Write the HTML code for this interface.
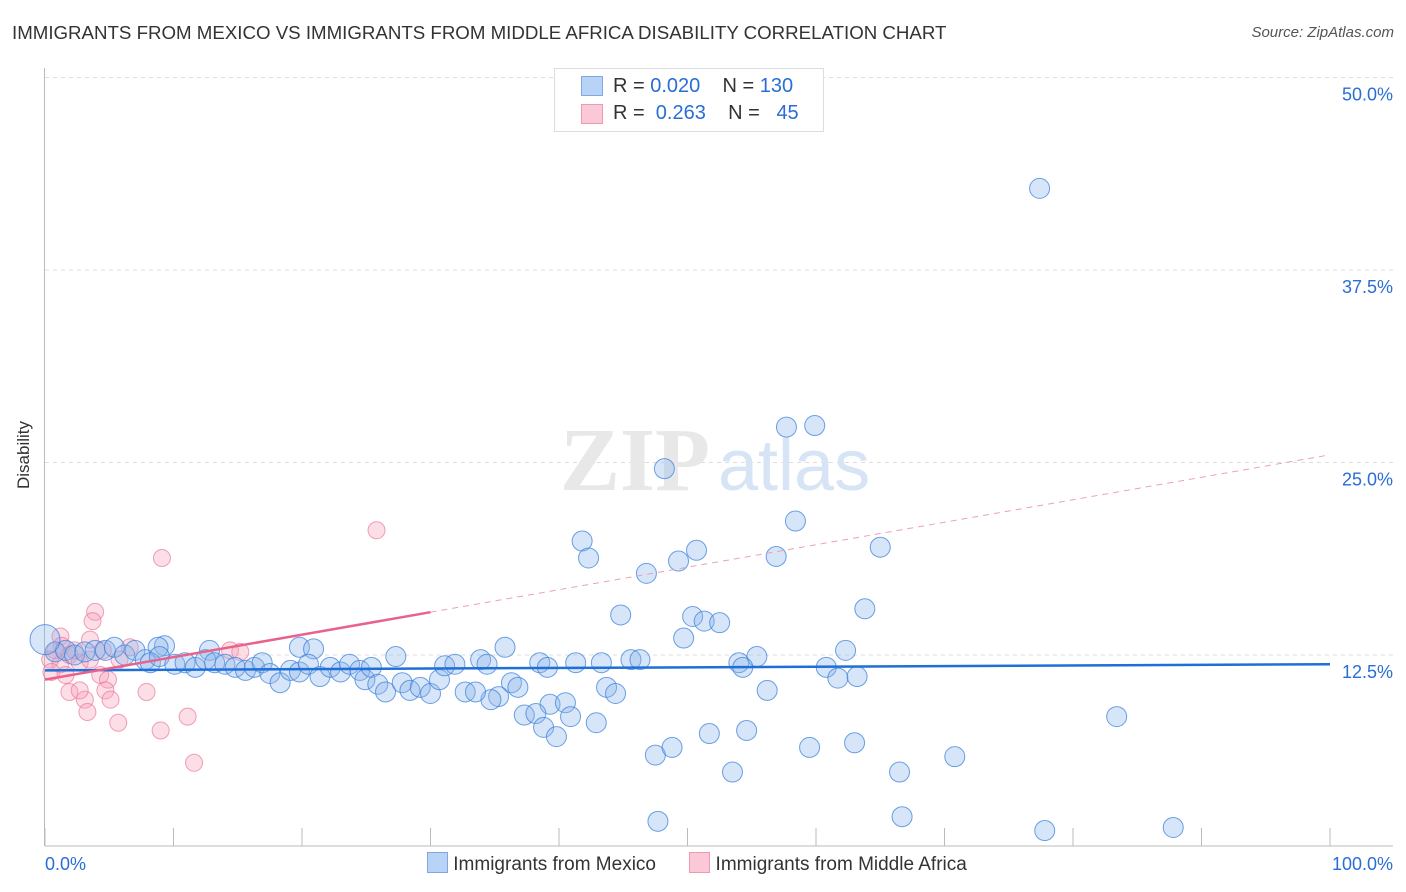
<!DOCTYPE html>
<html><head><meta charset="utf-8"><style>
body{margin:0;background:#fff;font-family:"Liberation Sans",sans-serif}
#wrap{position:relative;width:1406px;height:892px}
.t{position:absolute;white-space:nowrap}
</style></head><body><div id="wrap">
<div class="t" style="left:12px;top:22px;font-size:18.7px;color:#333">IMMIGRANTS FROM MEXICO VS IMMIGRANTS FROM MIDDLE AFRICA DISABILITY CORRELATION CHART</div>
<div class="t" style="right:12px;top:24px;font-size:15px;color:#555;font-style:italic">Source: ZipAtlas.com</div>
<div class="t" style="left:-10px;top:445px;font-size:17px;color:#333;transform:rotate(-90deg)">Disability</div>
<svg id="svg" width="1406" height="892" style="position:absolute;left:0;top:0"></svg>
<div style="position:absolute;left:554px;top:68px;width:268px;height:62px;border:1px solid #ddd;background:#fff;font-size:20px;color:#333">
<div style="position:absolute;left:26px;top:7px;width:20px;height:18px;background:#b8d3f5;border:1px solid #7fa8e0"></div>
<div class="t" style="left:58px;top:6px">R = <span style="color:#2a6dd6">0.020</span>&nbsp;&nbsp;&nbsp; N = <span style="color:#2a6dd6">130</span></div>
<div style="position:absolute;left:26px;top:35px;width:20px;height:18px;background:#fac8d6;border:1px solid #f09ab2"></div>
<div class="t" style="left:58px;top:33px">R = &nbsp;<span style="color:#2a6dd6">0.263</span>&nbsp;&nbsp;&nbsp; N = &nbsp;&nbsp;<span style="color:#2a6dd6">45</span></div>
</div>
<div style="position:absolute;left:427px;top:852px;font-size:19px;color:#333">
<span style="display:inline-block;width:19px;height:19px;background:#b8d3f5;border:1px solid #7fa8e0;vertical-align:-3px"></span> Immigrants from Mexico
<span style="display:inline-block;width:19px;height:19px;background:#fac8d6;border:1px solid #f09ab2;vertical-align:-3px;margin-left:28px"></span> Immigrants from Middle Africa</div>
</div>
<script>
const yTicks=[12.5,25,37.5,50];
const yTickLabels=["12.5%","25.0%","37.5%","50.0%"];
const blueX=[77.4,57.7,59.9,48.2,58.4,41.8,42.3,50.7,49.3,56.9,65.0,46.8,63.8,44.8,50.4,51.3,52.5,49.7,62.3,35.8,19.8,20.9,9.3,8.8,12.8,27.3,33.9,41.3,43.3,45.6,46.3,54.0,55.4,60.8,54.3,61.7,63.2,56.2,83.4,43.7,44.4,36.3,36.8,35.3,34.7,39.3,40.5,37.3,38.2,38.8,40.9,39.8,42.9,47.5,48.8,51.7,54.6,59.5,63.0,53.5,66.5,70.8,47.7,66.7,77.8,87.8,
0.8,1.6,2.3,3.1,3.9,4.7,5.4,6.2,7.0,7.8,8.2,8.9,10.1,10.9,11.7,12.5,13.2,14.0,14.8,15.6,16.3,16.9,17.5,18.3,19.1,19.8,20.5,21.4,22.2,23.0,23.7,24.5,24.9,25.4,25.9,26.5,27.8,28.4,29.2,30.0,30.7,31.1,31.9,32.7,33.5,34.4,38.5,39.1];
const blueY=[42.8,27.3,27.4,24.6,21.2,19.9,18.8,19.3,18.6,18.9,19.5,17.8,15.5,15.1,15.0,14.7,14.6,13.6,12.8,13.0,13.0,12.9,13.1,13.0,12.8,12.4,12.2,12.0,12.0,12.2,12.2,12.0,12.4,11.7,11.7,11.0,11.1,10.2,8.5,10.4,10.0,10.7,10.4,9.8,9.6,9.3,9.4,8.6,8.7,7.8,8.5,7.2,8.1,6.0,6.5,7.4,7.6,6.5,6.8,4.9,4.9,5.9,1.7,2.0,1.1,1.3,
12.7,12.8,12.5,12.7,12.8,12.8,13.0,12.5,12.8,12.2,12.0,12.4,11.9,12.0,11.7,12.2,12.0,11.9,11.7,11.5,11.7,12.0,11.3,10.7,11.5,11.4,11.9,11.1,11.7,11.4,11.9,11.5,10.9,11.7,10.6,10.1,10.7,10.2,10.4,10.0,10.9,11.8,11.9,10.1,10.1,11.9,12.0,11.7];
const pinkX=[1.2,0.8,0.4,1.2,1.9,2.7,3.5,3.9,3.7,4.3,4.9,4.7,3.1,1.9,2.7,5.1,3.3,5.7,7.9,9.1,25.8,11.1,9.0,11.6,6.6,4.5,1.3,2.3,0.5,1.6,3.5,5.8,14.4,15.2];
const pinkY=[13.7,12.8,12.2,11.9,12.5,12.0,12.2,15.3,14.7,11.2,10.9,10.2,9.6,10.1,10.2,9.6,8.8,8.1,10.1,18.8,20.6,8.5,7.6,5.5,13.0,12.8,13.1,12.8,11.4,11.2,13.5,12.2,12.8,12.7];
const blueTrend=[11.5,11.9];
const pinkTrend=[10.9,25.5];
const svg=document.getElementById('svg');const NS='http://www.w3.org/2000/svg';
const X=v=>45+v*12.85, Y=v=>847.5-v*15.4;
function mk(t,a){const e=document.createElementNS(NS,t);for(const k in a)e.setAttribute(k,a[k]);svg.appendChild(e);return e;}
yTicks.forEach((v,i)=>{
 const g=mk('line',{x1:45,x2:1393,y1:Y(v),y2:Y(v),stroke:'#ddd','stroke-dasharray':'4,4'});
 
 
 const t=mk('text',{x:1393,y:Y(v)+23,'text-anchor':'end','font-size':18,fill:'#2a6dd6','font-family':'Liberation Sans'});
 t.textContent=yTickLabels[i];
 
 
});
const ya=mk('line',{x1:44.5,x2:44.5,y1:68,y2:846,stroke:'#bbb'});


const xa=mk('line',{x1:45,x2:1393,y1:846,y2:846,stroke:'#bbb'});


for(let i=0;i<=10;i++){const l=mk('line',{x1:X(i*10),x2:X(i*10),y1:828,y2:846,stroke:'#bbb'});
 
 }
const wm=mk('text',{x:635,y:490,'text-anchor':'middle','font-size':90,fill:'#e8e8e8','font-family':'Liberation Serif','font-weight':'bold'});
wm.textContent='ZIP';


const wm2=mk('text',{x:718,y:490,'font-size':72,fill:'#d6e4f5','font-family':'Liberation Sans'});
wm2.textContent='atlas';


const t0=mk('text',{x:45,y:870,'font-size':18,fill:'#2a6dd6','font-family':'Liberation Sans'});t0.textContent='0.0%';


const t1=mk('text',{x:1393,y:870,'text-anchor':'end','font-size':18,fill:'#2a6dd6','font-family':'Liberation Sans'});t1.textContent='100.0%';


pinkX.forEach((x,i)=>{const c=mk('circle',{cx:X(x),cy:Y(pinkY[i]),r:8.5,fill:'rgba(246,160,185,0.35)',stroke:'rgba(236,120,155,0.7)','stroke-width':1});
 
 });
blueX.forEach((x,i)=>{const c=mk('circle',{cx:X(x),cy:Y(blueY[i]),r:10,fill:'rgba(140,180,235,0.35)',stroke:'rgba(60,130,220,0.75)','stroke-width':1});
 
 });
const big=mk('circle',{cx:X(0),cy:Y(13.5),r:15,fill:'rgba(140,180,235,0.35)',stroke:'rgba(60,130,220,0.75)'});


const bt=mk('line',{x1:X(0),x2:X(100),y1:Y(blueTrend[0]),y2:Y(blueTrend[1]),stroke:'#1f6fd8','stroke-width':2.5});


const ps=v=>pinkTrend[0]+(pinkTrend[1]-pinkTrend[0])*v/100;
const pt=mk('line',{x1:X(0),x2:X(30),y1:Y(ps(0)),y2:Y(ps(30)),stroke:'#e8628c','stroke-width':2.5});


const pd=mk('line',{x1:X(30),x2:X(100),y1:Y(ps(30)),y2:Y(ps(100)),stroke:'#eba0b8','stroke-width':1,'stroke-dasharray':'6,5'});


</script></body></html>
